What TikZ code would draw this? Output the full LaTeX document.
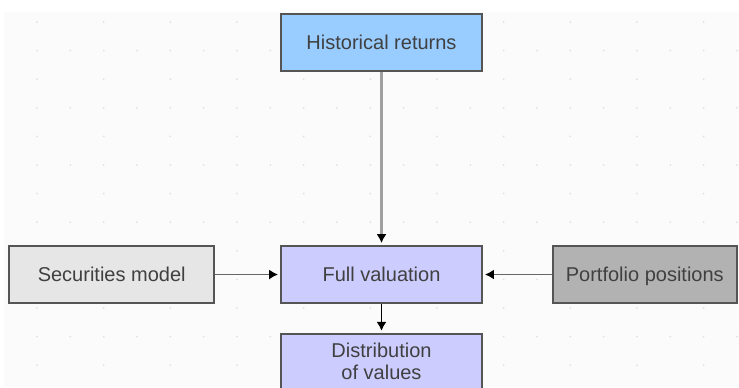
\documentclass[tikz,border=0pt]{standalone}
\usepackage{fontspec}
\setmainfont{Liberation Sans}
\usetikzlibrary{arrows.meta,positioning}
\definecolor{histblue}{HTML}{99CCFF}
\definecolor{valblue}{HTML}{CCCCFF}
\definecolor{modelgray}{HTML}{E6E6E6}
\definecolor{posgray}{HTML}{B2B2B2}
\definecolor{framegray}{HTML}{555555}
\definecolor{textgray}{HTML}{404040}
\definecolor{dotgray}{HTML}{E2E2E2}
\tikzset{
    %Define standard arrow tip
    >={Latex[length=4.5pt,width=5pt,color=black]},
    %Define style for boxes
    box/.style={
           rectangle,
           draw=framegray, line width=0.9pt,
           text=textgray,
           font=\fontsize{10}{11}\selectfont,
           minimum width=100.5pt,
           minimum height=28.5pt,
           align=center},
    % Define arrow styles
    feed/.style={
           ->,
           draw=gray!80!black,
           line width=0.9pt,
           shorten >=1pt},
    source/.style={
           ->,
           draw=gray!75,
           line width=1.4pt,
           shorten >=1pt}
}

\begin{document}
\begin{tikzpicture}[x=0.5pt, y=-0.5pt]
 %background
    \useasboundingbox (0,0) rectangle (739,387);
    \fill[white] (0,0) rectangle (739,387);
    \fill[black!1.5] (4,12) rectangle (739,387);
    \foreach \r in {0,...,12} {
        \foreach \c in {0,...,21} {
            \pgfmathtruncatemacro{\skip}{mod(\r+1,2)*mod(\c,2)}
            \ifnum\skip=0
                \fill[dotgray] (37+33.33*\c, 22+28.6*\r) circle (1);
            \fi
        }
    }
 %nodes
    \node[box, fill=valblue] at (381.5,274.5) (full) {Full valuation};
    \node[box, fill=histblue, above=86.5pt of full] (hist) {Historical returns};
    \node[box, fill=modelgray, minimum width=102.5pt, left=32.5pt of full] (model) {Securities model};
    \node[box, fill=posgray, minimum width=92pt, text depth=0pt, right=34.5pt of full] (pos) {Portfolio positions};
    \node[box, fill=valblue, minimum height=28pt, below=14.5pt of full] (dist) {Distribution\\ of values};
 %edges
    \draw[source] (hist) -- (full);
    \draw[feed] (model) -- (full);
    \draw[feed] (pos) -- (full);
    \draw[feed, draw=black] (full) -- (dist);
\end{tikzpicture}
\end{document}
